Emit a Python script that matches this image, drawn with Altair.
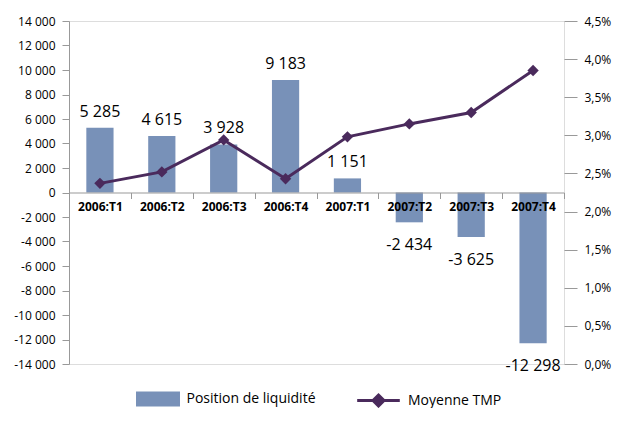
import altair as alt
import pandas as pd

categories = ["2006:T1", "2006:T2", "2006:T3", "2006:T4", "2007:T1", "2007:T2", "2007:T3", "2007:T4"]
liquidite = [5285, 4615, 3928, 9183, 1151, -2434, -3625, -12298]
tmp = [2.37, 2.52, 2.94, 2.43, 2.98, 3.15, 3.30, 3.85]
left_ticks = list(range(-14000, 14001, 2000))
right_ticks = [0, 0.5, 1.0, 1.5, 2.0, 2.5, 3.0, 3.5, 4.0, 4.5]

BAR = "#7891b8"
LINE = "#4a2a5c"
FONT = "Open Sans"
H = 343

df = pd.DataFrame({
    "cat": categories,
    "liq": liquidite,
    "tmp": tmp,
    "s1": "Position de liquidité",
    "s2": "Moyenne TMP",
})

base = alt.Chart(df)

bars = base.mark_bar(width=alt.RelativeBandSize(0.44)).encode(
    x=alt.X("cat:N", sort=categories, title=None,
            scale=alt.Scale(paddingInner=0, paddingOuter=0),
            axis=alt.Axis(orient="bottom", offset=-H / 2, domainColor="#999999", tickColor="#999999",
                          tickSize=6, tickBand="extent", labelFontWeight="bold", labelFontSize=12,
                          labelColor="#000000", labelPadding=3, labelAngle=0, labelFont=FONT,
                          labelOverlap=False, zindex=1)),
    y=alt.Y("liq:Q", title=None,
            scale=alt.Scale(domain=[-14000, 14000], nice=False),
            axis=alt.Axis(values=left_ticks, tickCount=30, grid=False, domainColor="#999999",
                          tickColor="#999999", tickSize=7, labelPadding=7, labelFontSize=12,
                          labelColor="#000000", labelFont=FONT, labelOverlap=False,
                          labelBound=False, labelFlush=False,
                          labelExpr="replace(replace(format(datum.value, ','), regexp(',', 'g'), ' '), '\u2212', '-')")),
    fill=alt.Fill("s1:N", scale=alt.Scale(range=[BAR]),
                  legend=alt.Legend(orient="none", legendX=75, legendY=H + 21, title=None,
                                    symbolType="M-1.6,-0.55H1.6V0.55H-1.6Z", symbolSize=756,
                                    symbolStrokeWidth=0, labelOffset=14.5, labelFontSize=14,
                                    labelFont=FONT, labelColor="#000000")),
)

label_expr = "replace(replace(format(datum.liq, ','), regexp(',', 'g'), ' '), '\u2212', '-')"

pos_text = base.transform_filter("datum.liq >= 0").transform_calculate(lab=label_expr).mark_text(
    baseline="alphabetic", dy=-11, fontSize=16, font=FONT, color="#000000").encode(
    x=alt.X("cat:N", sort=categories), y=alt.Y("liq:Q"), text="lab:N")

neg_text = base.transform_filter("datum.liq < 0").transform_calculate(lab=label_expr).mark_text(
    baseline="top", dy=15, fontSize=16, font=FONT, color="#000000").encode(
    x=alt.X("cat:N", sort=categories), y=alt.Y("liq:Q"), text="lab:N")

left = alt.layer(bars, pos_text, neg_text)

line = base.mark_line(strokeWidth=3).encode(
    x=alt.X("cat:N", sort=categories),
    y=alt.Y("tmp:Q", title=None,
            scale=alt.Scale(domain=[0, 4.5], nice=False),
            axis=alt.Axis(orient="right", values=right_ticks, tickCount=30, grid=False, domain=False,
                          tickColor="#999999", tickSize=13, labelPadding=7, labelFontSize=12,
                          labelColor="#000000", labelFont=FONT, labelOverlap=False,
                          labelBound=False, labelFlush=False,
                          labelExpr="replace(format(datum.value, '.1f'), '.', ',') + '%'")),
    stroke=alt.Stroke("s2:N", scale=alt.Scale(range=[LINE]),
                      legend=alt.Legend(orient="none", legendX=294, legendY=H + 21, title=None,
                                        symbolType="M-1.55,0H1.55M0,-0.4L0.4,0L0,0.4L-0.4,0Z",
                                        symbolSize=756, symbolStrokeWidth=3, symbolFillColor=LINE,
                                        labelOffset=14, labelFontSize=14, labelFont=FONT,
                                        labelColor="#000000")),
)

points = base.mark_point(shape="diamond", filled=True, size=130, color=LINE, opacity=1).encode(
    x=alt.X("cat:N", sort=categories),
    y=alt.Y("tmp:Q"),
)

right = alt.layer(line, points)

chart = alt.layer(left, right).resolve_scale(y="independent").properties(
    width=495, height=H,
    autosize=alt.AutoSizeParams(type="none"),
    padding={"top": 13, "left": 61, "right": 48, "bottom": 44},
).configure_view(stroke=None).configure(background="white").configure_axis(labelOverlap=False)

chart.save("out.html", embed_options={"renderer": "svg", "actions": False})
